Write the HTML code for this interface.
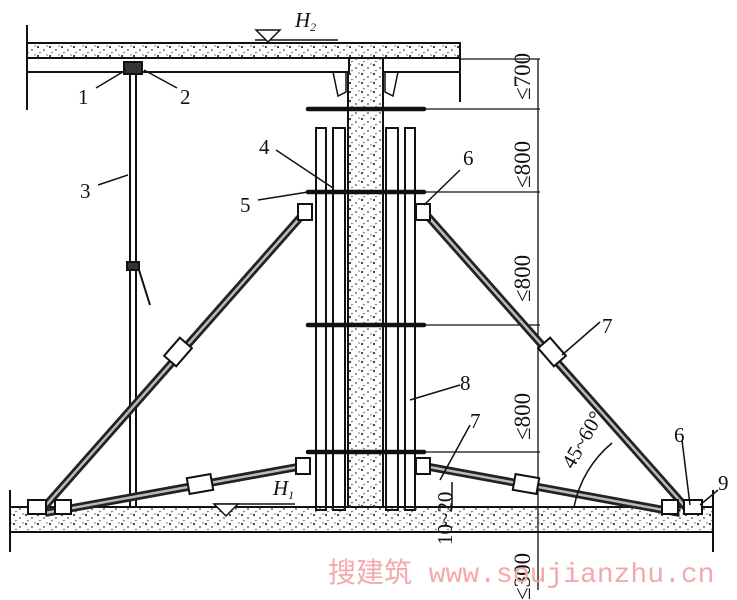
<!DOCTYPE html>
<html><head><meta charset="utf-8"><style>
html,body{margin:0;padding:0;background:#fff;}
svg{display:block;}
text{font-family:"Liberation Serif",serif;fill:#111;}
</style></head><body>
<svg width="737" height="600" viewBox="0 0 737 600" xmlns="http://www.w3.org/2000/svg">
<defs>
<pattern id="conc" width="12" height="9" patternUnits="userSpaceOnUse">
<circle cx="2" cy="2" r="1.1" fill="#333"/><circle cx="8" cy="5" r="0.9" fill="#444"/><circle cx="4" cy="7.5" r="0.8" fill="#555"/><circle cx="11" cy="1" r="0.7" fill="#555"/>
</pattern>
</defs>
<g stroke="#111" fill="none" stroke-width="2">
<rect x="27" y="43" width="433" height="15" fill="url(#conc)"/>
<rect x="27" y="58" width="322" height="14"/>
<rect x="383" y="58" width="77" height="14"/>
<line x1="27" y1="25" x2="27" y2="110"/>
<line x1="460" y1="45" x2="460" y2="102"/>
<rect x="349" y="58" width="33" height="450" fill="url(#conc)" stroke="none"/>
<g stroke-width="2">
<rect x="316" y="128" width="10" height="382"/>
<rect x="333" y="128" width="12" height="382"/>
<rect x="386" y="128" width="12" height="382"/>
<rect x="405" y="128" width="10" height="382"/>
<line x1="348" y1="72" x2="348" y2="508"/>
<line x1="383" y1="72" x2="383" y2="508"/>
</g>
<path d="M333 72 L346 72 L346 92 L338 96 Z" stroke-width="1.5"/>
<path d="M385 72 L398 72 L393 96 L385 92 Z" stroke-width="1.5"/>
<g stroke-width="4.5" stroke-linecap="round">
<line x1="308" y1="109" x2="424" y2="109"/>
<line x1="308" y1="192" x2="424" y2="192"/>
<line x1="308" y1="325" x2="424" y2="325"/>
<line x1="308" y1="452" x2="424" y2="452"/>
</g>
<g stroke-width="1.3">
<line x1="538" y1="59" x2="538" y2="590"/>
<line x1="460" y1="59" x2="540" y2="59"/>
<line x1="424" y1="109" x2="540" y2="109"/>
<line x1="424" y1="192" x2="540" y2="192"/>
<line x1="424" y1="325" x2="540" y2="325"/>
<line x1="424" y1="452" x2="540" y2="452"/>
</g>
<rect x="10" y="507" width="703" height="25" fill="url(#conc)"/>
<rect x="349" y="500" width="33" height="12" fill="url(#conc)" stroke="none"/>
<line x1="10" y1="490" x2="10" y2="552"/>
<line x1="713" y1="490" x2="713" y2="552"/>
<line x1="130" y1="72" x2="130" y2="507" stroke-width="2"/>
<line x1="136" y1="72" x2="136" y2="507" stroke-width="2"/>
<rect x="124" y="62" width="18" height="12" fill="#333"/>
<rect x="127" y="262" width="12" height="8" fill="#333"/>
<line x1="139" y1="270" x2="150" y2="305"/>
<g stroke-width="8" stroke="#222">
<line x1="305" y1="212" x2="40" y2="512"/>
<line x1="424" y1="212" x2="690" y2="512"/>
<line x1="303" y1="466" x2="45" y2="513"/>
<line x1="424" y1="466" x2="680" y2="513"/>
</g>
<g stroke-width="2.5" stroke="#bbb">
<line x1="305" y1="212" x2="40" y2="512"/>
<line x1="424" y1="212" x2="690" y2="512"/>
<line x1="303" y1="466" x2="45" y2="513"/>
<line x1="424" y1="466" x2="680" y2="513"/>
</g>
<g fill="#fff" stroke-width="2">
<rect x="170" y="340" width="16" height="24" transform="rotate(41 178 352)"/>
<rect x="544" y="340" width="16" height="24" transform="rotate(-41 552 352)"/>
<rect x="188" y="476" width="24" height="16" transform="rotate(-10 200 484)"/>
<rect x="514" y="476" width="24" height="16" transform="rotate(10 526 484)"/>
<rect x="298" y="204" width="14" height="16"/>
<rect x="416" y="204" width="14" height="16"/>
<rect x="296" y="458" width="14" height="16"/>
<rect x="416" y="458" width="14" height="16"/>
<rect x="28" y="500" width="18" height="14"/>
<rect x="55" y="500" width="16" height="14"/>
<rect x="662" y="500" width="16" height="14"/>
<rect x="684" y="500" width="18" height="14"/>
</g>
<line x1="255" y1="40" x2="338" y2="40" stroke-width="1.5"/>
<path d="M256 30 L280 30 L268 42 Z" stroke-width="1.5" fill="#fff"/>
<line x1="215" y1="504" x2="295" y2="504" stroke-width="1.5"/>
<path d="M214 504 L238 504 L226 516 Z" stroke-width="1.5" fill="#fff"/>
<g stroke-width="1.5">
<line x1="96" y1="88" x2="126" y2="70"/>
<line x1="177" y1="88" x2="144" y2="70"/>
<line x1="98" y1="185" x2="128" y2="175"/>
<line x1="276" y1="150" x2="333" y2="188"/>
<line x1="258" y1="200" x2="308" y2="192"/>
<line x1="460" y1="170" x2="424" y2="205"/>
<line x1="600" y1="322" x2="562" y2="355"/>
<line x1="460" y1="385" x2="410" y2="400"/>
<line x1="470" y1="425" x2="440" y2="480"/>
<line x1="682" y1="440" x2="690" y2="505"/>
<line x1="718" y1="490" x2="700" y2="505"/>
<line x1="452" y1="482" x2="452" y2="507"/>
<path d="M574 507 A110 110 0 0 1 612 443"/>
</g>
</g>
<g font-size="21">
<text x="78" y="104">1</text>
<text x="180" y="104">2</text>
<text x="80" y="198">3</text>
<text x="259" y="154">4</text>
<text x="240" y="212">5</text>
<text x="463" y="165">6</text>
<text x="602" y="333">7</text>
<text x="460" y="390">8</text>
<text x="470" y="428">7</text>
<text x="674" y="442">6</text>
<text x="718" y="490">9</text>
<text x="295" y="27" font-style="italic">H<tspan font-size="12" dy="4">2</tspan></text>
<text x="273" y="495" font-style="italic">H<tspan font-size="12" dy="4">1</tspan></text>
</g>
<g font-size="23">
<text transform="translate(530,100) rotate(-90)">≤700</text>
<text transform="translate(530,188) rotate(-90)">≤800</text>
<text transform="translate(530,302) rotate(-90)">≤800</text>
<text transform="translate(530,440) rotate(-90)">≤800</text>
<text transform="translate(530,600) rotate(-90)">≤300</text>
<text transform="translate(452,545) rotate(-90)" font-size="21">10~20</text>
<text transform="translate(573,470) rotate(-60)" font-size="21">45~60°</text>
</g>
<text x="328" y="582" font-size="28" style="font-family:'Liberation Mono','Noto Sans CJK SC',monospace;fill:#f3a9ad">搜建筑 www.soujianzhu.cn</text>
</svg>
</body></html>
